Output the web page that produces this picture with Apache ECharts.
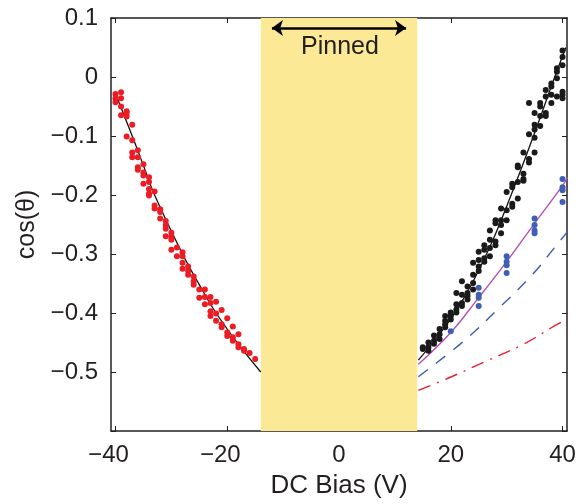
<!DOCTYPE html>
<html>
<head>
<meta charset="utf-8">
<script src="https://cdn.jsdelivr.net/npm/echarts@6/dist/echarts.min.js"></script>
<style>
  html, body { margin: 0; padding: 0; background: #fff; }
  #chart { width: 579px; height: 504px; }
</style>
</head>
<body>
<div id="chart"></div>
<script>
// measured points, negative bias (red)
const redBias = [-40,-40,-40,-39,-39,-39,-39,-38,-38,-38,-37,-38,-37,-37,-37,-36,-36,-36,-36,-35,-35,-35,-35,-34,-34,-34,-34,-34,-33,-33,-33,-32,-32,-32,-31,-31,-31,-31,-30,-30,-30,-30,-29,-29,-28,-28,-28,-28,-27,-27,-27,-26,-26,-26,-25,-25,-24,-24,-24,-23,-23,-23,-23,-22,-22,-22,-21,-21,-21,-20,-20,-20,-19,-19,-19,-18,-18,-18,-17,-17,-16,-15];
const redCos = [-0.029,-0.036,-0.043,-0.026,-0.036,-0.050,-0.065,-0.061,-0.058,-0.067,-0.081,-0.101,-0.107,-0.128,-0.136,-0.124,-0.136,-0.153,-0.157,-0.148,-0.162,-0.167,-0.181,-0.170,-0.178,-0.190,-0.198,-0.201,-0.194,-0.218,-0.223,-0.224,-0.240,-0.229,-0.244,-0.251,-0.257,-0.270,-0.264,-0.271,-0.276,-0.293,-0.289,-0.304,-0.297,-0.304,-0.315,-0.325,-0.321,-0.329,-0.335,-0.338,-0.346,-0.352,-0.360,-0.374,-0.360,-0.373,-0.385,-0.373,-0.383,-0.397,-0.405,-0.381,-0.401,-0.413,-0.395,-0.419,-0.424,-0.409,-0.433,-0.439,-0.423,-0.441,-0.447,-0.436,-0.453,-0.458,-0.461,-0.464,-0.468,-0.478];

// measured points, positive bias (black), one list per voltage
const blackBias = [15,16,17,18,19,20,21,22,23,24,25,26,27,28,29,30,31,32,33,34,35,36,37,38,39,40];
const blackCos = [
  [-0.458,-0.461],
  [-0.450,-0.458,-0.464],
  [-0.438,-0.447,-0.452],
  [-0.427,-0.436,-0.444],
  [-0.405,-0.413,-0.419,-0.424],
  [-0.399,-0.405,-0.411],
  [-0.366,-0.385,-0.394,-0.399],
  [-0.346,-0.369,-0.383,-0.388],
  [-0.355,-0.366,-0.371,-0.377],
  [-0.315,-0.335,-0.349,-0.360],
  [-0.296,-0.310,-0.321,-0.329],
  [-0.285,-0.293,-0.307,-0.313],
  [-0.260,-0.276,-0.290,-0.304],
  [-0.243,-0.248,-0.279,-0.285],
  [-0.223,-0.243,-0.251,-0.265],
  [-0.195,-0.226,-0.243],
  [-0.181,-0.187,-0.215,-0.220],
  [-0.150,-0.153,-0.178,-0.206],
  [-0.128,-0.164,-0.173,-0.176],
  [-0.044,-0.097,-0.139,-0.145],
  [-0.061,-0.081,-0.089,-0.103,-0.128],
  [-0.044,-0.050,-0.066,-0.083],
  [-0.022,-0.033,-0.061,-0.066],
  [-0.011,-0.016,-0.030,-0.044],
  [0.015,0.009,-0.002,-0.033],
  [0.045,0.034,0.020,-0.025,-0.030,-0.036]
];

// blue points
const blueBias = [20,25,30,35,40];
const blueCos = [
  [-0.431],
  [-0.357,-0.369,-0.374,-0.388],
  [-0.304,-0.313,-0.319,-0.332],
  [-0.240,-0.251,-0.260,-0.265],
  [-0.173,-0.187,-0.192,-0.212]
];

// fit curves
const leftFitBias = [-40,-37,-35,-33,-28,-25,-22,-17.6,-14];
const leftFitCos = [-0.028,-0.1,-0.15,-0.2,-0.3,-0.352,-0.4,-0.458,-0.5];
const rightFitBias = [14.2,20.7,26.4,30.8,34.8,38.6,40.6];
const rightFitCos = [-0.48,-0.4,-0.3,-0.2,-0.1,0,0.05];
const magentaBias = [14.2,20,25,30,35,40,40.9];
const magentaCos = [-0.487,-0.433,-0.374,-0.313,-0.248,-0.184,-0.170];
const dashBias = [14.2,22.4,28.7,34.6,38.5,40.9];
const dashCos = [-0.508,-0.447,-0.391,-0.335,-0.290,-0.262];
const dashDotBias = [14.2,19.4,26,33,38,40.9];
const dashDotCos = [-0.531,-0.511,-0.483,-0.453,-0.425,-0.41];

// pinned region
const pinnedRange = [-14, 14];
const arrowRange = [-12, 12];
const arrowCos = 0.083;

const xTicks = [-40, -20, 0, 20, 40];

const FONT = 'Liberation Sans';
const INK = '#231f20';
const TICK_FONT = 24;

function zip(xs, ys) {
    return xs.map((x, i) => [x, ys[i]]);
}
function flatten(xs, groups) {
    const out = [];
    xs.forEach((x, i) => groups[i].forEach(y => out.push([x, y])));
    return out;
}
function fmtY(v) {
    const r = Math.round(v * 10) / 10;
    if (r <= -0.6) return '';
    if (r === 0) return '0';
    return (r < 0 ? '\u2212' : '') + Math.abs(r).toFixed(1);
}
// digits sit centred on the tick, the minus hangs to the left
function fmtX(v) {
    if (v < 0) return '{neg|\u2212' + Math.abs(v) + '}';
    return '{pos|' + v + '}';
}

const chart = echarts.init(document.getElementById('chart'));

const labelFont = { fontFamily: FONT, fontSize: TICK_FONT, color: INK };

const baseX = {
    type: 'value', min: -40.8, max: 40.8,
    axisLine: { show: true, onZero: false, lineStyle: { color: INK, width: 1.5 } },
    axisTick: { show: true, inside: true, length: 5, customValues: xTicks, lineStyle: { color: INK, width: 1 } },
    splitLine: { show: false }
};
const baseY = {
    type: 'value', min: -0.6, max: 0.1, interval: 0.1,
    axisLine: { show: true, onZero: false, lineStyle: { color: INK, width: 1.5 } },
    axisTick: { show: true, inside: true, length: 5, lineStyle: { color: INK, width: 1 } },
    splitLine: { show: false }
};

const option = {
    animation: false,
    backgroundColor: '#fff',
    textStyle: { fontFamily: FONT },
    grid: { left: 111, right: 12, top: 18, bottom: 69 },
    xAxis: [
        Object.assign({}, baseX, {
            position: 'bottom',
            name: 'DC Bias (V)', nameLocation: 'middle', nameGap: 42,
            nameTextStyle: { fontFamily: FONT, fontSize: 26, color: INK },
            axisLabel: Object.assign({}, labelFont, {
                customValues: xTicks, formatter: fmtX, margin: 12,
                rich: {
                    neg: Object.assign({}, labelFont, { padding: [0, 14, 0, 0] }),
                    pos: Object.assign({}, labelFont)
                }
            })
        }),
        Object.assign({}, baseX, { position: 'top', axisLabel: { show: false } })
    ],
    yAxis: [
        Object.assign({}, baseY, {
            position: 'left',
            name: 'cos(\u03b8)', nameLocation: 'middle', nameGap: 71, nameRotate: 90,
            nameTextStyle: { fontFamily: FONT, fontSize: 25, color: INK },
            axisLabel: Object.assign({}, labelFont, { formatter: fmtY, margin: 13 })
        }),
        Object.assign({}, baseY, { position: 'right', axisLabel: { show: false } })
    ],
    graphic: [{
        type: 'text', x: 340, y: 47.5,
        style: {
            text: 'Pinned', font: '25px "Liberation Sans"', fill: INK,
            textAlign: 'center', textVerticalAlign: 'middle'
        },
        z: 100
    }],
    series: [
        {
            type: 'line', data: zip(leftFitBias, leftFitCos), smooth: 0.4,
            symbol: 'none', lineStyle: { color: '#111', width: 1.3 }, z: 3
        },
        {
            type: 'line', data: zip(rightFitBias, rightFitCos), smooth: 0.4,
            symbol: 'none', lineStyle: { color: '#111', width: 1.3 }, z: 3
        },
        {
            type: 'line', data: zip(magentaBias, magentaCos), smooth: 0.4,
            symbol: 'none', lineStyle: { color: '#b94fb5', width: 1.4 }, z: 3
        },
        {
            type: 'line', data: zip(dashBias, dashCos), smooth: 0.4,
            symbol: 'none', lineStyle: { color: '#3d5bb0', width: 1.4, type: [12, 10] }, z: 3
        },
        {
            type: 'line', data: zip(dashDotBias, dashDotCos), smooth: 0.4,
            symbol: 'none', lineStyle: { color: '#e8202a', width: 1.4, type: [13, 7, 2, 7] }, z: 3
        },
        {
            type: 'scatter', data: zip(redBias, redCos), symbolSize: 6,
            itemStyle: { color: '#ec1c24', opacity: 1 }, z: 4
        },
        {
            type: 'scatter', data: flatten(blackBias, blackCos), symbolSize: 6,
            itemStyle: { color: '#1a1a1a', opacity: 1 }, z: 4
        },
        {
            type: 'scatter', data: flatten(blueBias, blueCos), symbolSize: 6,
            itemStyle: { color: '#3f5fb5', opacity: 1 }, z: 5
        },
        {
            type: 'line', data: [], z: 10,
            markArea: {
                silent: true,
                itemStyle: { color: '#fbe996', opacity: 1 },
                data: [[{ xAxis: pinnedRange[0] }, { xAxis: pinnedRange[1] }]]
            },
            markLine: {
                silent: true,
                symbol: ['arrow', 'arrow'],
                symbolSize: [12, 11],
                label: { show: false },
                lineStyle: { color: '#000', width: 2.5, type: 'solid' },
                data: [[{ coord: [arrowRange[0], arrowCos] }, { coord: [arrowRange[1], arrowCos] }]]
            }
        }
    ]
};

chart.setOption(option);
</script>
</body>
</html>
